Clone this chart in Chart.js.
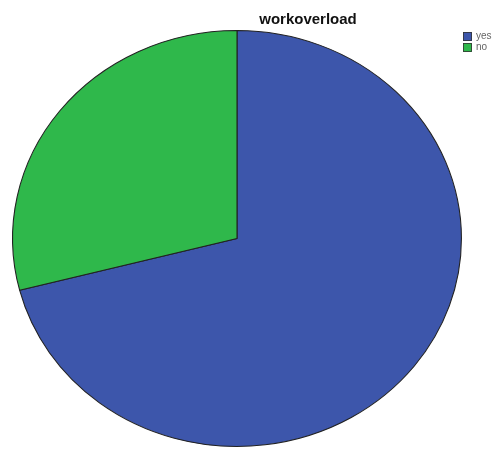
<!DOCTYPE html>
<html>
<head>
<meta charset="utf-8">
<script src="https://cdn.jsdelivr.net/npm/chart.js@4"></script>
<style>
html,body{margin:0;padding:0;background:#fff;}
#wrap{width:499px;height:451px;position:relative;}
</style>
</head>
<body>
<div id="wrap"><canvas id="c" width="499" height="451"></canvas></div>
<script>
const chartTitle = "workoverload";
const categories = ["yes", "no"];
const values = [71, 29];
const colors = ["#3d56ab", "#2fb84b"];

// stretch the round pie horizontally into the ellipse of the reference
const ellipsePlugin = {
  id: 'ellipse',
  beforeDatasetsDraw(chart) {
    const a = chart.chartArea, ctx = chart.ctx;
    const cx = (a.left + a.right) / 2;
    ctx.save();
    ctx.translate(cx, 0);
    ctx.scale(1.079, 1);
    ctx.translate(-cx, 0);
  },
  afterDatasetsDraw(chart) { chart.ctx.restore(); }
};

// title and legend placed as in the reference
const labelsPlugin = {
  id: 'labels',
  afterDraw(chart) {
    const ctx = chart.ctx;
    ctx.save();
    ctx.fillStyle = '#111';
    ctx.font = 'bold 15px "Liberation Sans", Arial, sans-serif';
    ctx.textAlign = 'center';
    ctx.textBaseline = 'alphabetic';
    ctx.fillText(chartTitle, 308, 24);
    categories.forEach((lab, i) => {
      const y = 32 + i * 11;
      ctx.fillStyle = colors[i];
      ctx.fillRect(463, y, 9, 9);
      ctx.strokeStyle = '#333';
      ctx.lineWidth = 0.8;
      ctx.strokeRect(463.5, y + 0.5, 8, 8);
      ctx.fillStyle = '#666';
      ctx.font = '10px "Liberation Sans", Arial, sans-serif';
      ctx.textAlign = 'left';
      ctx.textBaseline = 'middle';
      ctx.fillText(lab, 476, y + 4.5);
    });
    ctx.restore();
  }
};

new Chart(document.getElementById('c'), {
  type: 'pie',
  data: {
    labels: categories,
    datasets: [{
      data: values,
      backgroundColor: colors,
      borderColor: '#222',
      borderWidth: 1,
      hoverOffset: 0
    }]
  },
  options: {
    responsive: false,
    animation: false,
    events: [],
    layout: { padding: { top: 30, bottom: 4, left: 28.5, right: 53.5 } },
    plugins: {
      legend: { display: false },
      title: { display: false },
      tooltip: { enabled: false }
    }
  },
  plugins: [ellipsePlugin, labelsPlugin]
});
</script>
</body>
</html>
